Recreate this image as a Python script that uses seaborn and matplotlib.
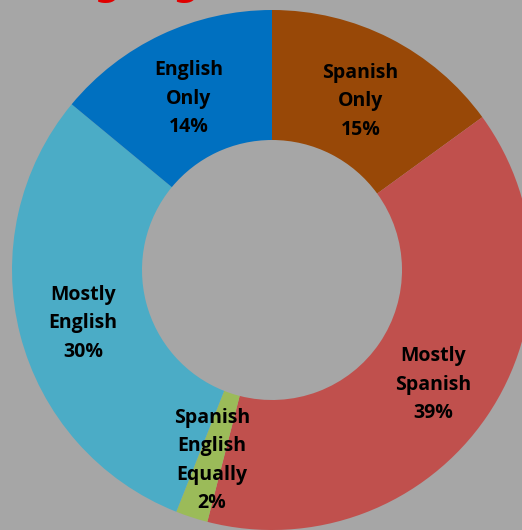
import numpy as np
import matplotlib
matplotlib.use("Agg")
import matplotlib.pyplot as plt
import seaborn as sns

# data (clockwise from 12 o'clock)
categories = ["Spanish\nOnly", "Mostly\nSpanish", "Spanish\nEnglish\nEqually", "Mostly\nEnglish", "English\nOnly"]
shares = [15, 39, 2, 30, 14]
colors = ["#984807", "#C0504D", "#9BBB59", "#4BACC6", "#0070C0"]

sns.set_style("white")
plt.rcParams['font.family'] = ['Open Sans', 'DejaVu Sans']

W, H = 522, 530
fig = plt.figure(figsize=(W / 100, H / 100), dpi=100, facecolor="#A6A6A6")
ax = fig.add_axes([0, 0, 1, 1])
ax.set_facecolor("#A6A6A6")

# ring centre sits at pixel (272, 270), outer radius 260 px
R = 260.0
cx, cy = 272.0, 270.0

wedges, texts = ax.pie(
    shares,
    labels=[f"{c}\n{s}%" for c, s in zip(categories, shares)],
    colors=sns.color_palette(colors),
    startangle=90,
    counterclock=False,
    labeldistance=0.75,
    wedgeprops=dict(width=0.5, linewidth=0),
    textprops=dict(fontsize=14, fontweight="bold", color="black",
                   ha="center", va="center", linespacing=1.55),
)
for t in texts:
    t.set_horizontalalignment("center")
    t.set_verticalalignment("center")
    x, y = t.get_position()
    t.set_position((x, y - 5 / R))

ax.set_xlim(-cx / R, (W - cx) / R)
ax.set_ylim(-(H - cy) / R, cy / R)
ax.set_aspect("auto")
ax.axis("off")

# title mostly above the visible area, only descenders show
fig.text(19 / W, (H + 5) / H, "Language", color="#E00000", fontsize=27,
         fontweight="bold", ha="left", va="baseline", family=["DejaVu Sans"])

fig.savefig("out.png", dpi=100, facecolor=fig.get_facecolor())
